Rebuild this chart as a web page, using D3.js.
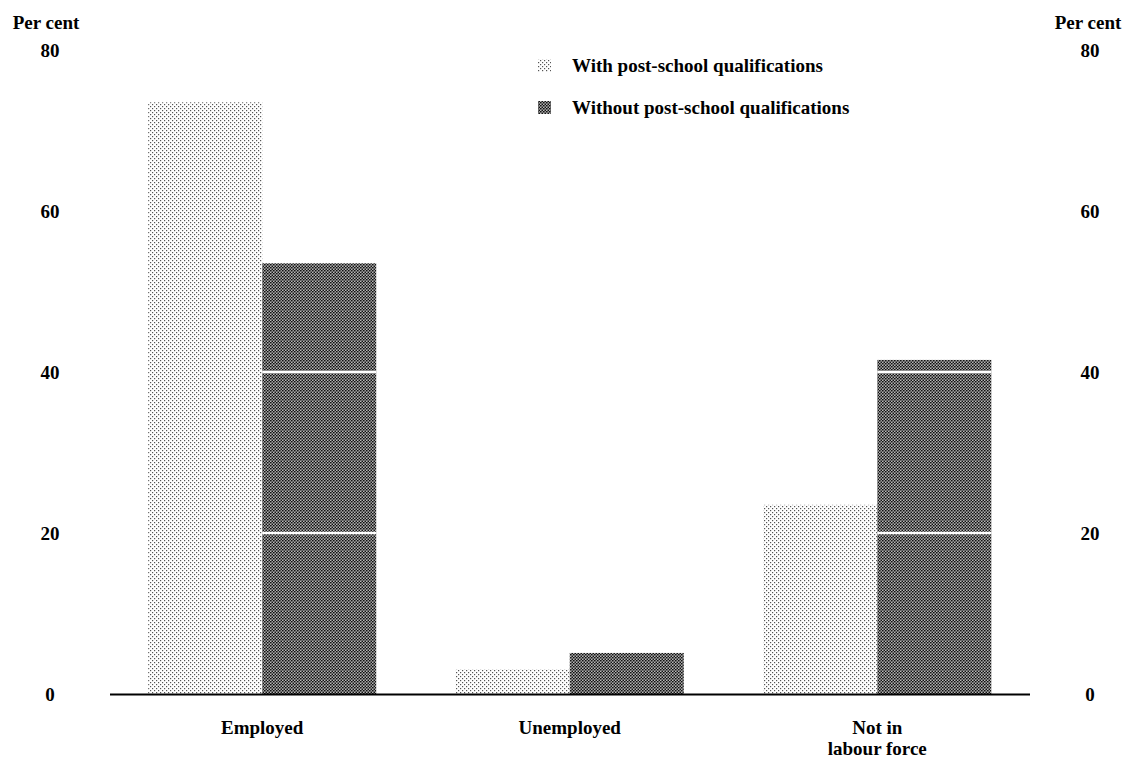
<!DOCTYPE html>
<html>
<head>
<meta charset="utf-8">
<script src="https://cdn.jsdelivr.net/npm/d3@7"></script>
<style>
  html, body { margin: 0; padding: 0; background: #fff; }
  svg text { font-family: "Liberation Serif", "DejaVu Serif", serif; font-weight: bold; fill: #000; }
</style>
</head>
<body>
<svg id="chart" width="1123" height="760"></svg>
<script>
// ---- data ----
const categories = ["Employed", "Unemployed", "Not in labour force"];
const categoryLines = [["Employed"], ["Unemployed"], ["Not in", "labour force"]];
const seriesNames = ["With post-school qualifications", "Without post-school qualifications"];
const withQual = [73.5, 3.1, 23.5];
const withoutQual = [53.5, 5.1, 41.5];
const yTicks = [0, 20, 40, 60, 80];

const svg = d3.select("#chart");

// patterns
const defs = svg.append("defs");
const pLight = defs.append("pattern").attr("id", "pLight")
  .attr("patternUnits", "userSpaceOnUse").attr("width", 4).attr("height", 4);
pLight.append("rect").attr("width", 4).attr("height", 4).attr("fill", "#fff");
pLight.append("rect").attr("x", 0).attr("y", 0).attr("width", 1.2).attr("height", 1.2).attr("fill", "#555");
pLight.append("rect").attr("x", 2).attr("y", 2).attr("width", 1.2).attr("height", 1.2).attr("fill", "#555");

const pDark = defs.append("pattern").attr("id", "pDark")
  .attr("patternUnits", "userSpaceOnUse").attr("width", 3).attr("height", 3);
pDark.append("rect").attr("width", 3).attr("height", 3).attr("fill", "#bbb");
pDark.append("rect").attr("x", 0).attr("y", 0).attr("width", 1.5).attr("height", 1.5).attr("fill", "#111");
pDark.append("rect").attr("x", 1.5).attr("y", 1.5).attr("width", 1.5).attr("height", 1.5).attr("fill", "#111");
pDark.append("rect").attr("x", 1.5).attr("y", 0).attr("width", 0.8).attr("height", 0.8).attr("fill", "#333");

const fills = ["url(#pLight)", "url(#pDark)"];

// scales
const y = d3.scaleLinear().domain([0, 80]).range([694, 50]);
const x0 = d3.scaleBand().domain(categories).range([108.5, 1031])
  .paddingInner(0.2585).paddingOuter(0.129);
const x1 = d3.scaleBand().domain(seriesNames).range([0, x0.bandwidth()]).padding(0);

const rows = categories.map((c, i) => ({ cat: c, vals: [withQual[i], withoutQual[i]] }));

// bars
const g = svg.append("g");
rows.forEach(r => {
  r.vals.forEach((v, j) => {
    const bx = x0(r.cat) + x1(seriesNames[j]);
    g.append("rect")
      .attr("x", bx)
      .attr("y", y(v))
      .attr("width", x1.bandwidth())
      .attr("height", y(0) - y(v))
      .attr("fill", fills[j]);
    // white gridlines visible across the dark bars
    if (j === 1) {
      yTicks.filter(t => t > 0 && t < v).forEach(t => {
        g.append("line")
          .attr("x1", bx).attr("x2", bx + x1.bandwidth())
          .attr("y1", y(t)).attr("y2", y(t))
          .attr("stroke", "#fff").attr("stroke-width", 2.5);
      });
    }
  });
});

// baseline
svg.append("line").attr("x1", 110).attr("x2", 1030)
  .attr("y1", y(0) + 0.5).attr("y2", y(0) + 0.5)
  .attr("stroke", "#000").attr("stroke-width", 2.2);

// axes (labels only)
const leftAxis = d3.axisLeft(y).tickValues(yTicks).tickSize(0).tickPadding(0);
const la = svg.append("g").attr("transform", "translate(50,0)").call(leftAxis);
la.select(".domain").remove();
la.selectAll("text").attr("text-anchor", "middle").style("font-size", "19px")
  .style("font-family", '"Liberation Serif", serif').style("font-weight", "bold");

const rightAxis = d3.axisRight(y).tickValues(yTicks).tickSize(0).tickPadding(0);
const ra = svg.append("g").attr("transform", "translate(1090,0)").call(rightAxis);
ra.select(".domain").remove();
ra.selectAll("text").attr("text-anchor", "middle").style("font-size", "19px")
  .style("font-family", '"Liberation Serif", serif').style("font-weight", "bold");

// "Per cent" titles
svg.append("text").attr("x", 46).attr("y", 29).attr("text-anchor", "middle")
  .style("font-size", "19px").text("Per cent");
svg.append("text").attr("x", 1088).attr("y", 29).attr("text-anchor", "middle")
  .style("font-size", "19px").text("Per cent");

// category labels
categories.forEach((c, i) => {
  const cx = x0(c) + x0.bandwidth() / 2;
  const t = svg.append("text")
    .attr("x", cx)
    .attr("y", 734)
    .attr("text-anchor", "middle")
    .style("font-size", "19px");
  categoryLines[i].forEach((ln, k) => {
    t.append("tspan").attr("x", cx).attr("dy", k === 0 ? 0 : 21).text(ln);
  });
});

// legend
const legendY = [66, 108];
seriesNames.forEach((s, j) => {
  svg.append("rect").attr("x", 538).attr("y", legendY[j] - 7)
    .attr("width", 13).attr("height", 13).attr("fill", fills[j]);
  svg.append("text").attr("x", 572).attr("y", legendY[j] + 6)
    .style("font-size", "19px").text(s);
});
</script>
</body>
</html>
